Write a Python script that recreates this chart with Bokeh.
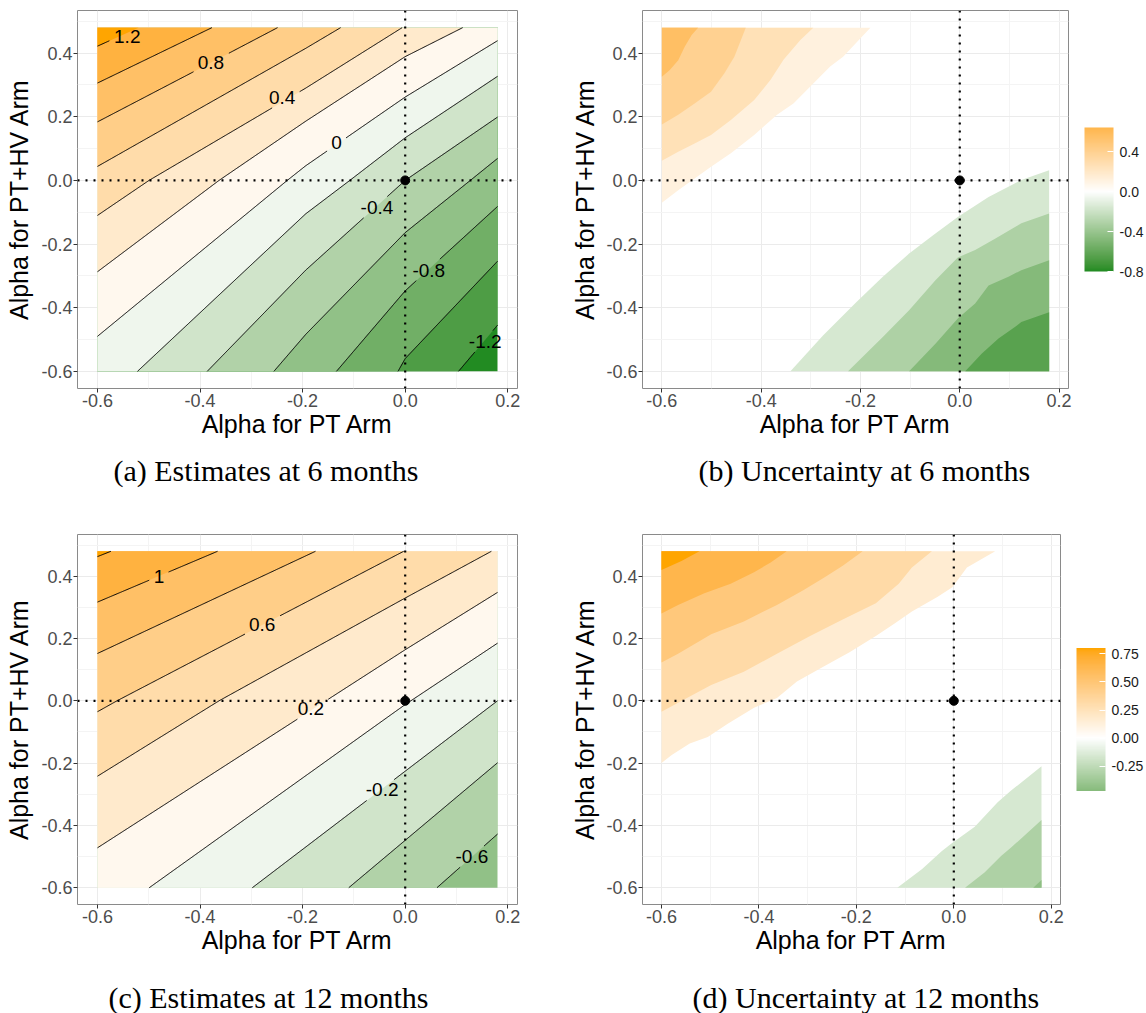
import math
from bokeh.plotting import figure
from bokeh.models import (Range1d, FixedTicker, NumeralTickFormatter, Span, Title,
                          LinearColorMapper, ColorBar, ColumnDataSource)
from bokeh.layouts import row, column
from bokeh.embed import file_html
from bokeh.resources import INLINE
from bokeh.core.properties import value

# ------------------------------------------------------------------ data
X_MIN, X_MAX = -0.6, 0.18
Y_MIN, Y_MAX = -0.6, 0.48
X_TICKS = [-0.6, -0.4, -0.2, 0.0, 0.2]
X_MINOR = [-0.5, -0.3, -0.1, 0.1]
Y_TICKS = [-0.6, -0.4, -0.2, 0.0, 0.2, 0.4]
Y_MINOR = [-0.5, -0.3, -0.1, 0.1, 0.3, 0.5]
REF_X = [0.0]
REF_Y = [0.0]
X_LABEL = "Alpha for PT Arm"
Y_LABEL = "Alpha for PT+HV Arm"
CAPTIONS = ["(a) Estimates at 6 months", "(b) Uncertainty at 6 months",
            "(c) Estimates at 12 months", "(d) Uncertainty at 12 months"]

# (a) estimates at 6 months - traced contour lines
A_LEVELS = [1.2, 1.0, 0.8, 0.6, 0.4, 0.2, 0.0, -0.2, -0.4, -0.6, -0.8, -1.0, -1.2]
A_LINE_X = [
    [-0.6, -0.52],
    [-0.6, -0.377],
    [-0.6, -0.418, -0.249],
    [-0.6, -0.194, -0.126],
    [-0.6, -0.4995, -0.194, -0.006],
    [-0.6, -0.363, -0.194, 0.0, 0.112],
    [-0.6, -0.230, -0.194, 0.0, 0.18],
    [-0.522, -0.194, -0.108, 0.0, 0.18],
    [-0.386, -0.194, 0.0, 0.18],
    [-0.256, -0.194, 0.0, 0.127, 0.18],
    [-0.134, 0.0, 0.18],
    [-0.014, 0.0, 0.18],
    [0.104, 0.18],
]
A_LINE_Y = [
    [0.422, 0.48],
    [0.306, 0.48],
    [0.184, 0.337, 0.48],
    [0.044, 0.415, 0.48],
    [-0.110, 0.0, 0.29, 0.48],
    [-0.287, 0.0, 0.186, 0.389, 0.48],
    [-0.490, 0.0, 0.046, 0.262, 0.439],
    [-0.6, -0.105, 0.0, 0.134, 0.327],
    [-0.6, -0.282, 0.0, 0.199],
    [-0.6, -0.484, -0.164, 0.0, 0.069],
    [-0.6, -0.347, -0.082],
    [-0.6, -0.56, -0.254],
    [-0.6, -0.455],
]
A_FILL_ABOVE = [1.3, 1.1, 0.9, 0.7, 0.5, 0.3, 0.1, -0.1, -0.3, -0.5, -0.7, -0.9, -1.1]
A_FILL_BASE = -1.3
A_LIM = 1.3
A_LABELS = ["1.2", "0.8", "0.4", "0", "-0.4", "-0.8", "-1.2"]
A_LABEL_X = [-0.542, -0.379, -0.240, -0.134, -0.055, 0.046, 0.156]
A_LABEL_Y = [0.453, 0.370, 0.262, 0.119, -0.084, -0.282, -0.505]

# (c) estimates at 12 months - traced contour lines
C_LEVELS = [1.2, 1.0, 0.8, 0.6, 0.4, 0.2, 0.0, -0.2, -0.4, -0.6]
C_LINE_X = [
    [-0.6, -0.574],
    [-0.6, -0.366],
    [-0.6, -0.175],
    [-0.6, -0.562, -0.003],
    [-0.6, -0.363, 0.0, 0.168],
    [-0.6, 0.0, 0.18],
    [-0.499, 0.0, 0.18],
    [-0.298, 0.18],
    [-0.110, 0.18],
    [0.062, 0.18],
]
C_LINE_Y = [
    [0.463, 0.48],
    [0.317, 0.48],
    [0.152, 0.48],
    [-0.035, 0.0, 0.48],
    [-0.242, 0.0, 0.330, 0.48],
    [-0.472, 0.164, 0.348],
    [-0.6, -0.012, 0.185],
    [-0.6, 0.0],
    [-0.6, -0.199],
    [-0.6, -0.428],
]
C_FILL_ABOVE = [1.3, 1.1, 0.9, 0.7, 0.5, 0.3, 0.1, -0.1, -0.3, -0.5]
C_FILL_BASE = -0.7
C_LIM = 1.3
C_LABELS = ["1", "0.6", "0.2", "-0.2", "-0.6"]
C_LABEL_X = [-0.480, -0.279, -0.184, -0.045, 0.130]
C_LABEL_Y = [0.398, 0.244, -0.026, -0.286, -0.501]

# (b) uncertainty at 6 months - band boundaries (outer -> inner)
B_ORANGE_X = [
    [-0.6, -0.567, -0.534, -0.501, -0.461, -0.414, -0.368, -0.335, -0.301, -0.261, -0.235, -0.180],
    [-0.6, -0.567, -0.534, -0.501, -0.461, -0.414, -0.381, -0.355, -0.321, -0.295],
    [-0.6, -0.567, -0.534, -0.501, -0.474, -0.454, -0.431],
    [-0.6, -0.584, -0.567, -0.554, -0.540, -0.527],
]
B_ORANGE_Y = [
    [-0.070, -0.031, 0.006, 0.043, 0.085, 0.143, 0.206, 0.242, 0.295, 0.358, 0.389, 0.48],
    [0.062, 0.090, 0.116, 0.143, 0.190, 0.253, 0.316, 0.379, 0.441, 0.48],
    [0.176, 0.206, 0.242, 0.279, 0.337, 0.389, 0.48],
    [0.326, 0.347, 0.378, 0.420, 0.457, 0.48],
]
B_ORANGE_FILL = [0.12, 0.26, 0.40, 0.56]
B_GREEN_X = [
    [-0.341, -0.275, -0.208, -0.155, -0.102, -0.049, -0.004, 0.058, 0.124, 0.18],
    [-0.225, -0.155, -0.102, -0.049, -0.004, 0.031, 0.071, 0.124, 0.18],
    [-0.102, -0.049, -0.004, 0.031, 0.058, 0.098, 0.124, 0.18],
    [0.011, 0.044, 0.078, 0.111, 0.124, 0.18],
]
B_GREEN_Y = [
    [-0.6, -0.487, -0.382, -0.303, -0.230, -0.167, -0.115, -0.052, 0.001, 0.032],
    [-0.6, -0.492, -0.408, -0.314, -0.242, -0.219, -0.183, -0.135, -0.104],
    [-0.6, -0.513, -0.434, -0.387, -0.330, -0.303, -0.282, -0.251],
    [-0.6, -0.545, -0.497, -0.461, -0.445, -0.414],
]
B_GREEN_FILL = [-0.16, -0.32, -0.48, -0.64]
B_LIM = 0.8
B_CBAR_LOW, B_CBAR_HIGH = -0.8, 0.64
B_CBAR_TICKS = [-0.8, -0.4, 0.0, 0.4]

# (d) uncertainty at 12 months - band boundaries (outer -> inner)
D_ORANGE_X = [
    [-0.6, -0.579, -0.542, -0.505, -0.464, -0.410, -0.363, -0.322, -0.268, -0.214, -0.160,
     -0.120, -0.086, -0.033, -0.003, 0.027, 0.085],
    [-0.6, -0.566, -0.498, -0.431, -0.363, -0.295, -0.228, -0.160, -0.113, -0.086, -0.045],
    [-0.6, -0.566, -0.498, -0.431, -0.363, -0.309, -0.265, -0.228, -0.187],
    [-0.6, -0.566, -0.512, -0.458, -0.410, -0.376, -0.343],
    [-0.6, -0.559, -0.522],
]
D_ORANGE_Y = [
    [-0.200, -0.174, -0.137, -0.116, -0.074, -0.022, 0.009, 0.062, 0.109, 0.156, 0.208,
     0.250, 0.287, 0.334, 0.365, 0.428, 0.48],
    [-0.035, -0.006, 0.051, 0.093, 0.151, 0.208, 0.261, 0.313, 0.376, 0.428, 0.48],
    [0.123, 0.151, 0.214, 0.255, 0.308, 0.355, 0.397, 0.434, 0.48],
    [0.280, 0.308, 0.345, 0.376, 0.413, 0.444, 0.48],
    [0.420, 0.449, 0.48],
]
D_ORANGE_FILL = [0.16, 0.32, 0.48, 0.64, 0.80]
D_GREEN_X = [
    [-0.116, -0.065, -0.025, -0.004, 0.043, 0.090, 0.117, 0.18],
    [0.023, 0.063, 0.097, 0.117, 0.18],
    [0.163, 0.18],
]
D_GREEN_Y = [
    [-0.6, -0.540, -0.483, -0.457, -0.404, -0.326, -0.289, -0.210],
    [-0.6, -0.551, -0.498, -0.472, -0.383],
    [-0.6, -0.575],
]
D_GREEN_FILL = [-0.16, -0.32, -0.44]
D_LIM = 0.8
D_CBAR_LOW, D_CBAR_HIGH = -0.472, 0.803
D_CBAR_TICKS = [-0.25, 0.0, 0.25, 0.5, 0.75]

LOW_COL, MID_COL, HIGH_COL = "#228B22", "#FFFFFF", "#FFA500"

# ------------------------------------------------------------------ colour helpers (Lab ramp)
XN, YN, ZN = 0.95047, 1.0, 1.08883


def _lin(c):
    c = c / 255.0
    return c / 12.92 if c <= 0.04045 else ((c + 0.055) / 1.055) ** 2.4


def _gam(c):
    c = 12.92 * c if c <= 0.0031308 else 1.055 * (max(c, 0) ** (1 / 2.4)) - 0.055
    return int(max(0, min(255, round(c * 255))))


def hex2lab(h):
    r, g, b = [_lin(int(h[i:i + 2], 16)) for i in (1, 3, 5)]
    X = 0.4124564 * r + 0.3575761 * g + 0.1804375 * b
    Y = 0.2126729 * r + 0.7151522 * g + 0.0721750 * b
    Z = 0.0193339 * r + 0.1191920 * g + 0.9503041 * b
    f = lambda t: t ** (1 / 3) if t > 216 / 24389 else (24389 / 27 * t + 16) / 116
    fx, fy, fz = f(X / XN), f(Y / YN), f(Z / ZN)
    return (116 * fy - 16, 500 * (fx - fy), 200 * (fy - fz))


def lab2hex(L, a, b):
    fy = (L + 16) / 116
    fx = fy + a / 500
    fz = fy - b / 200
    finv = lambda t: t ** 3 if t ** 3 > 216 / 24389 else (116 * t - 16) / (24389 / 27)
    X, Y, Z = finv(fx) * XN, finv(fy) * YN, finv(fz) * ZN
    r = 3.2404542 * X - 1.5371385 * Y - 0.4985314 * Z
    g = -0.9692660 * X + 1.8760108 * Y + 0.0415560 * Z
    bb = 0.0556434 * X - 0.2040259 * Y + 1.0572252 * Z
    return "#%02X%02X%02X" % (_gam(r), _gam(g), _gam(bb))


LAB_LOW, LAB_MID, LAB_HIGH = hex2lab(LOW_COL), hex2lab(MID_COL), hex2lab(HIGH_COL)


def grad(v, lim):
    t = min(abs(v) / lim, 1.0)
    end = LAB_HIGH if v > 0 else LAB_LOW
    return lab2hex(*[m + t * (e - m) for m, e in zip(LAB_MID, end)])


# ------------------------------------------------------------------ geometry helpers
W = X_MAX - X_MIN
H = Y_MAX - Y_MIN
PER = 2 * W + 2 * H
CORNERS = [(0.0, (X_MIN, Y_MIN)), (W, (X_MAX, Y_MIN)), (W + H, (X_MAX, Y_MAX)), (2 * W + H, (X_MIN, Y_MAX))]


def perim(x, y):
    e = 1e-9
    if abs(y - Y_MIN) < e:
        return x - X_MIN
    if abs(x - X_MAX) < e:
        return W + (y - Y_MIN)
    if abs(y - Y_MAX) < e:
        return W + H + (X_MAX - x)
    return 2 * W + H + (Y_MAX - y)


def ccw_corners(s_from, s_to):
    span = (s_to - s_from) % PER
    out = []
    for s, pt in CORNERS:
        d = (s - s_from) % PER
        if 0 < d < span:
            out.append((d, pt))
    out.sort()
    return [pt for _, pt in out]


def side_polygon(xs, ys, high=True):
    pts = list(zip(xs, ys))
    s0 = perim(*pts[0])
    s1 = perim(*pts[-1])
    if high:
        poly = pts + ccw_corners(s1, s0)
    else:
        poly = pts[::-1] + ccw_corners(s0, s1)
    return [p[0] for p in poly], [p[1] for p in poly]


# ------------------------------------------------------------------ figure factory
XL, XH = X_MIN - 0.05 * W, X_MAX + 0.05 * W
YL, YH = Y_MIN - 0.05 * H, Y_MAX + 0.05 * H
FONT = "Liberation Sans"
LABEL_FS = 19
CHAR_W = {"-": 0.333, ".": 0.278}


def make_fig(width, height, left, right, top, bottom, ystand):
    p = figure(width=width, height=height, x_range=Range1d(XL, XH), y_range=Range1d(YL, YH),
               output_backend="svg", toolbar_location=None, title=None,
               min_border_left=left, min_border_right=right,
               min_border_top=top, min_border_bottom=bottom,
               x_axis_label=X_LABEL, y_axis_label=Y_LABEL)
    p.outline_line_color = "#8A8A8A"
    p.outline_line_width = 1
    p.background_fill_color = "white"
    p.border_fill_color = "white"
    xt = FixedTicker(ticks=X_TICKS, minor_ticks=X_MINOR)
    yt = FixedTicker(ticks=Y_TICKS, minor_ticks=Y_MINOR)
    p.xaxis.ticker = xt
    p.yaxis.ticker = yt
    p.xgrid.ticker = xt
    p.ygrid.ticker = yt
    for ax in (p.xaxis[0], p.yaxis[0]):
        ax.formatter = NumeralTickFormatter(format="0.0")
        ax.axis_line_color = None
        ax.major_tick_line_color = "#333333"
        ax.major_tick_out = 4
        ax.major_tick_in = 0
        ax.minor_tick_line_color = None
        ax.major_label_standoff = 1
        ax.major_label_text_font = FONT
        ax.major_label_text_font_size = "18px"
        ax.major_label_text_color = "#4D4D4D"
        ax.axis_label_text_font = FONT
        ax.axis_label_text_font_size = "25px"
        ax.axis_label_text_font_style = "normal"
        ax.axis_label_text_color = "black"
    p.yaxis.axis_label_standoff = ystand
    p.xaxis.axis_label_standoff = 0
    for g in (p.xgrid[0], p.ygrid[0]):
        g.grid_line_color = "#EBEBEB"
        g.grid_line_width = 1
        g.minor_grid_line_color = "#F4F4F4"
        g.minor_grid_line_width = 1
    return p


def add_refs(p):
    p.add_layout(Span(location=REF_X[0], dimension="height", line_color="black",
                      line_width=2.2, line_dash="2 6"))
    p.add_layout(Span(location=REF_Y[0], dimension="width", line_color="black",
                      line_width=2.2, line_dash="2 6"))
    p.scatter(x=REF_X, y=REF_Y, size=9, color="black")


def add_caption(p, text, offset, standoff, gap=0):
    if gap:
        # empty spacer between the axis title and the caption
        p.add_layout(Title(text=" ", text_font_size="1px", standoff=gap), "below")
    p.add_layout(Title(text=text, align="left", offset=offset, standoff=standoff,
                       text_font="Liberation Serif", text_font_size="30px",
                       text_font_style="normal", text_color="black"), "below")


def gapped_lines(lx, ly, labels, lab_x, lab_y, fw, fh):
    kx = fw / (XH - XL)
    ky = fh / (YH - YL)
    boxes = []
    for t, cx, cy in zip(labels, lab_x, lab_y):
        wpx = sum(CHAR_W.get(ch, 0.556) for ch in t) * LABEL_FS
        boxes.append((cx, cy, (wpx / 2 + 4) / kx, 10.5 / ky))
    out_x, out_y = [], []
    for xs, ys in zip(lx, ly):
        nx, ny = [], []
        for i in range(len(xs) - 1):
            x0, y0, x1, y1 = xs[i], ys[i], xs[i + 1], ys[i + 1]
            seg = math.hypot((x1 - x0) * kx, (y1 - y0) * ky)
            n = max(2, int(seg / 1.0))
            for j in range(n + (1 if i == len(xs) - 2 else 0)):
                u = j / n
                px, py = x0 + u * (x1 - x0), y0 + u * (y1 - y0)
                inside = any(abs(px - bx) < hw and abs(py - by) < hh for bx, by, hw, hh in boxes)
                nx.append(float("nan") if inside else px)
                ny.append(float("nan") if inside else py)
        out_x.append(nx)
        out_y.append(ny)
    return out_x, out_y


def draw_estimates(p, levels, lx, ly, fill_above, fill_base, lim, labels, lab_x, lab_y, fw, fh):
    pxs = [[X_MIN, X_MAX, X_MAX, X_MIN]]
    pys = [[Y_MIN, Y_MIN, Y_MAX, Y_MAX]]
    cols = [grad(fill_base, lim)]
    for i in sorted(range(len(levels)), key=lambda k: levels[k]):
        xs, ys = side_polygon(lx[i], ly[i], high=True)
        pxs.append(xs)
        pys.append(ys)
        cols.append(grad(fill_above[i], lim))
    p.patches(xs=pxs, ys=pys, fill_color=cols, line_color=None)
    gx, gy = gapped_lines(lx, ly, labels, lab_x, lab_y, fw, fh)
    p.multi_line(xs=gx, ys=gy, line_color="black", line_width=1)
    src = ColumnDataSource(dict(x=lab_x, y=lab_y, text=labels))
    p.text(x="x", y="y", text="text", source=src, text_align="center", text_baseline="middle",
           text_font=value(FONT), text_font_size=f"{LABEL_FS}px", text_color="black")


def draw_uncertainty(p, ox, oy, ofill, gx, gy, gfill, lim):
    pxs, pys, cols = [], [], []
    for xs0, ys0, v in zip(ox, oy, ofill):
        xs, ys = side_polygon(xs0, ys0, high=True)
        pxs.append(xs); pys.append(ys); cols.append(grad(v, lim))
    for xs0, ys0, v in zip(gx, gy, gfill):
        xs, ys = side_polygon(xs0, ys0, high=False)
        pxs.append(xs); pys.append(ys); cols.append(grad(v, lim))
    p.patches(xs=pxs, ys=pys, fill_color=cols, line_color=None)


def add_colorbar(p, low, high, lim, ticks, fmt, height):
    # empty spacer keeps the bar a little away from the panel border
    p.add_layout(Title(text=" ", text_font_size="1px", standoff=13), "right")
    n = 256
    pal = [grad(low + (high - low) * i / (n - 1), lim) for i in range(n)]
    mapper = LinearColorMapper(palette=pal, low=low, high=high)
    cb = ColorBar(color_mapper=mapper, ticker=FixedTicker(ticks=ticks),
                  formatter=NumeralTickFormatter(format=fmt),
                  width=29, height=height, location="center", margin=0, padding=0,
                  major_tick_line_color="white", major_tick_in=6, major_tick_out=0,
                  minor_tick_line_color=None, bar_line_color=None,
                  background_fill_color=None, border_line_color=None,
                  label_standoff=6, major_label_text_font=FONT,
                  major_label_text_font_size="14px", major_label_text_color="#1A1A1A")
    p.add_layout(cb, "right")


# ------------------------------------------------------------------ panels
# (a)
fa = make_fig(568, 523, 77, 51, 7, 135, 5)
draw_estimates(fa, A_LEVELS, A_LINE_X, A_LINE_Y, A_FILL_ABOVE, A_FILL_BASE, A_LIM,
               A_LABELS, A_LABEL_X, A_LABEL_Y, 440, 381)
add_refs(fa)
add_caption(fa, CAPTIONS[0], 36, 22)

# (b)
fb = make_fig(578, 523, 69, 78, 10, 135, 4)
draw_uncertainty(fb, B_ORANGE_X, B_ORANGE_Y, B_ORANGE_FILL, B_GREEN_X, B_GREEN_Y, B_GREEN_FILL, B_LIM)
add_refs(fb)
add_colorbar(fb, B_CBAR_LOW, B_CBAR_HIGH, B_LIM, B_CBAR_TICKS, "0.0", 144)
add_caption(fb, CAPTIONS[1], 56, 22)

# (c)
fc = make_fig(568, 490, 77, 51, 7, 103, 5)
draw_estimates(fc, C_LEVELS, C_LINE_X, C_LINE_Y, C_FILL_ABOVE, C_FILL_BASE, C_LIM,
               C_LABELS, C_LABEL_X, C_LABEL_Y, 440, 380)
add_refs(fc)
add_caption(fc, CAPTIONS[2], 31, 0, gap=19)

# (d)
fd = make_fig(578, 490, 69, 86, 11, 102, 4)
draw_uncertainty(fd, D_ORANGE_X, D_ORANGE_Y, D_ORANGE_FILL, D_GREEN_X, D_GREEN_Y, D_GREEN_FILL, D_LIM)
add_refs(fd)
add_colorbar(fd, D_CBAR_LOW, D_CBAR_HIGH, D_LIM, D_CBAR_TICKS, "0.00", 143)
add_caption(fd, CAPTIONS[3], 50, 0, gap=19)

layout = column(row(fa, fb), row(fc, fd))
open("out.html", "w").write(file_html(layout, INLINE))
